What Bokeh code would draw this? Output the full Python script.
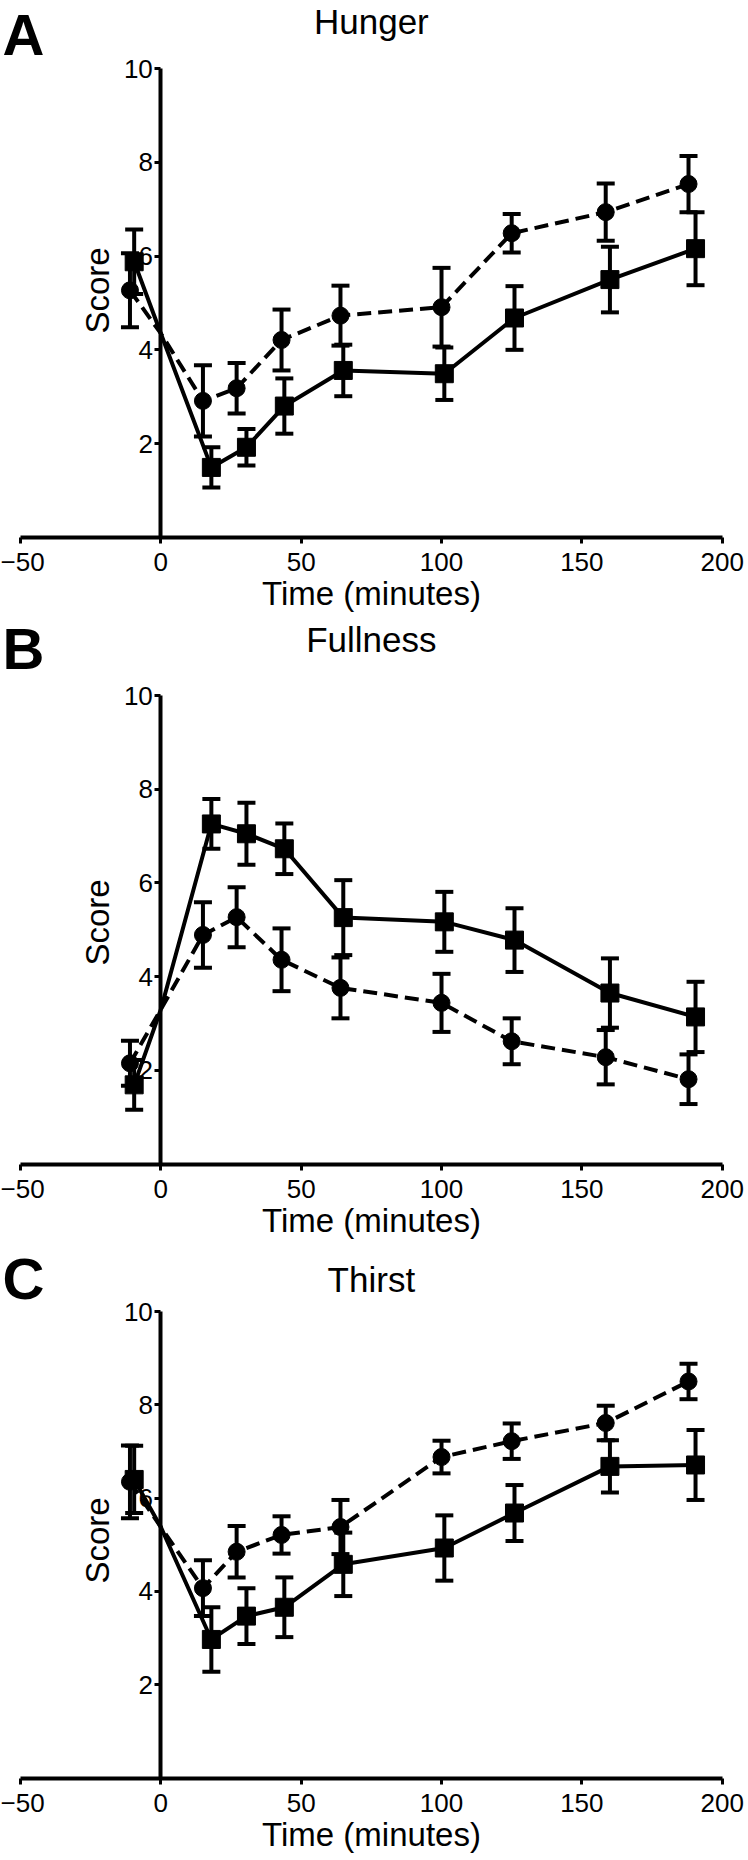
import math
from bokeh.plotting import figure
from bokeh.layouts import column
from bokeh.models import (Range1d, FixedTicker, Whisker, TeeHead, ColumnDataSource,
                          Label, LinearAxis)
from bokeh.embed import file_html
from bokeh.resources import INLINE

# ---------------- data ----------------
x_ticks = [-50, 0, 50, 100, 150, 200]
y_ticks = [2, 4, 6, 8, 10]

t_circle = [-11, 15, 27, 43, 64, 100, 125, 158.5, 188]
t_square = [-9.5, 18, 30.5, 44, 65, 101, 126, 160, 190.5]
t_cross = 0  # both lines meet on the y axis

hunger_circle = [5.27, 2.91, 3.18, 4.21, 4.73, 4.91, 6.49, 6.94, 7.54]
hunger_circle_sem = [0.79, 0.76, 0.54, 0.65, 0.64, 0.84, 0.41, 0.61, 0.60]
hunger_square = [5.88, 1.49, 1.92, 2.80, 3.56, 3.49, 4.68, 5.50, 6.16]
hunger_square_sem = [0.69, 0.43, 0.39, 0.59, 0.55, 0.56, 0.68, 0.70, 0.78]
hunger_at0 = 4.35

fullness_circle = [2.15, 4.89, 5.27, 4.36, 3.76, 3.44, 2.62, 2.28, 1.81]
fullness_circle_sem = [0.48, 0.70, 0.64, 0.67, 0.65, 0.62, 0.49, 0.58, 0.53]
fullness_square = [1.69, 7.26, 7.05, 6.73, 5.26, 5.17, 4.78, 3.65, 3.14]
fullness_square_sem = [0.53, 0.53, 0.66, 0.54, 0.80, 0.64, 0.68, 0.74, 0.75]
fullness_at0 = 3.30

thirst_circle = [6.35, 4.07, 4.85, 5.21, 5.38, 6.88, 7.22, 7.61, 8.50]
thirst_circle_sem = [0.78, 0.60, 0.55, 0.40, 0.58, 0.35, 0.38, 0.37, 0.38]
thirst_square = [6.40, 2.97, 3.47, 3.66, 4.58, 4.93, 5.68, 6.68, 6.71]
thirst_square_sem = [0.72, 0.69, 0.60, 0.64, 0.68, 0.70, 0.60, 0.56, 0.75]
thirst_at0 = 5.38

panel_letters = ["A", "B", "C"]
panel_titles = ["Hunger", "Fullness", "Thirst"]
x_label = "Time (minutes)"
y_label = "Score"

# ---------------- layout (pixels) ----------------
FONT = "Liberation Sans"
W = 748
X0_PX, X1_PX = 20.0, 721.7          # pixel column of x = -50 and x = 200
SCORE_X_PX = 96.5                   # centre column of the rotated y label
LW = 4


def make_panel(letter, title, circ, circ_sem, sq, sq_sem, at0, H,
               y10_px, y0_px, title_mid, letter_mid, score_mid):
    kx = (X1_PX - X0_PX) / 250.0
    xs, xe = -50 - X0_PX / kx, 200 + (W - X1_PX) / kx
    ky = (y0_px - y10_px) / 10.0
    ys, ye = -(H - y0_px) / ky, 10 + y10_px / ky

    def dx(px):
        return xs + px / kx

    def dy(py):
        return ye - py / ky

    p = figure(width=W, height=H, x_range=Range1d(xs, xe), y_range=Range1d(ys, ye),
               output_backend="svg", toolbar_location=None, title_location=None,
               x_axis_type=None, y_axis_type=None, min_border=0)
    p.outline_line_color = None
    p.background_fill_color = "white"
    p.border_fill_color = "white"

    xa = LinearAxis(ticker=FixedTicker(ticks=x_ticks), axis_label=x_label,
                    fixed_location=0, bounds=(-50, 200))
    ya = LinearAxis(ticker=FixedTicker(ticks=y_ticks),
                    fixed_location=0, bounds=(0, 10))
    for ax in (xa, ya):
        ax.axis_line_width = LW
        ax.axis_line_color = "black"
        ax.major_tick_line_width = 3
        ax.major_tick_line_color = "black"
        ax.major_tick_out = 6
        ax.major_tick_in = 0
        ax.minor_tick_line_color = None
        ax.major_label_text_font = FONT
        ax.major_label_text_font_size = "26px"
        ax.major_label_text_color = "black"
        ax.axis_label_text_font = FONT
        ax.axis_label_text_font_size = "33px"
        ax.axis_label_text_font_style = "normal"
        ax.axis_label_text_color = "black"
    xa.major_label_standoff = 10
    xa.axis_label_standoff = 0
    ya.major_label_standoff = 2
    p.add_layout(xa, "below")
    p.add_layout(ya, "left")

    # rotated y-axis title
    p.add_layout(Label(x=dx(SCORE_X_PX), y=dy(score_mid), text=y_label, angle=math.pi / 2,
                       text_font=FONT, text_font_size="33px", text_align="center",
                       text_baseline="middle", text_color="black"))

    # lines (passing through the shared value at t = 0)
    cx = [t_circle[0], t_cross] + t_circle[1:]
    cy = [circ[0], at0] + circ[1:]
    sx = [t_square[0], t_cross] + t_square[1:]
    sy = [sq[0], at0] + sq[1:]
    p.line(cx, cy, line_color="black", line_width=LW, line_dash="14 7")
    p.line(sx, sy, line_color="black", line_width=LW)

    # error bars
    for t, m, e in ((t_circle, circ, circ_sem), (t_square, sq, sq_sem)):
        src = ColumnDataSource(dict(x=t, upper=[a + b for a, b in zip(m, e)],
                                    lower=[a - b for a, b in zip(m, e)]))
        w = Whisker(source=src, base="x", upper="upper", lower="lower", dimension="height",
                    line_color="black", line_width=LW,
                    upper_head=TeeHead(size=18, line_width=LW, line_color="black"),
                    lower_head=TeeHead(size=18, line_width=LW, line_color="black"))
        p.add_layout(w)

    # markers
    p.scatter(t_circle, circ, marker="circle", size=17, color="black")
    p.scatter(t_square, sq, marker="square", size=18, color="black")

    # title and panel letter
    p.add_layout(Label(x=75, y=dy(title_mid), text=title, text_font=FONT,
                       text_font_size="35px", text_align="center",
                       text_baseline="middle", text_color="black"))
    p.add_layout(Label(x=dx(2), y=dy(letter_mid), text=letter, text_font=FONT,
                       text_font_size="58px", text_font_style="bold",
                       text_align="left", text_baseline="middle", text_color="black"))
    return p


# panel A occupies page rows 0-614, B 614-1240, C 1240-1860
pA = make_panel(panel_letters[0], panel_titles[0], hunger_circle, hunger_circle_sem,
                hunger_square, hunger_square_sem, hunger_at0, H=614,
                y10_px=68.3, y0_px=536.7, title_mid=21, letter_mid=34, score_mid=290)
pB = make_panel(panel_letters[1], panel_titles[1], fullness_circle, fullness_circle_sem,
                fullness_square, fullness_square_sem, fullness_at0, H=626,
                y10_px=81.1, y0_px=549.5, title_mid=25, letter_mid=34, score_mid=308)
pC = make_panel(panel_letters[2], panel_titles[2], thirst_circle, thirst_circle_sem,
                thirst_square, thirst_square_sem, thirst_at0, H=620,
                y10_px=71.0, y0_px=537.5, title_mid=39, letter_mid=38, score_mid=300)

layout = column(pA, pB, pC, spacing=0)
open("out.html", "w").write(file_html(layout, INLINE))
